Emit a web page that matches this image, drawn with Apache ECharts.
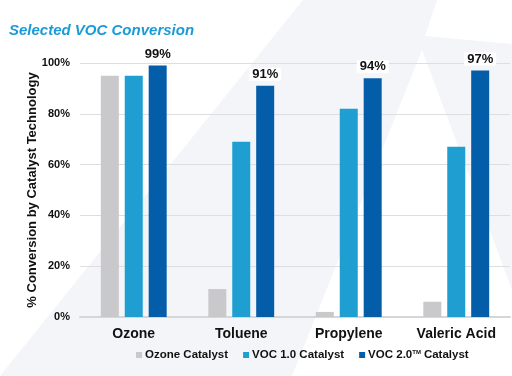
<!DOCTYPE html>
<html>
<head>
<meta charset="utf-8">
<script src="https://cdn.jsdelivr.net/npm/echarts@6/dist/echarts.min.js"></script>
<style>
    html, body { margin: 0; padding: 0; background: #fff; }
    #chart { width: 512px; height: 376px; }
</style>
</head>
<body>
<div id="chart"></div>
<script>
let categories = ['Ozone', 'Toluene', 'Propylene', 'Valeric Acid'];
let seriesNames = ['Ozone Catalyst', 'VOC 1.0 Catalyst', 'VOC 2.0 Catalyst'];
let ozoneCatalyst = [95, 11, 2, 6];
let voc10Catalyst = [95, 69, 82, 67];
let voc20Catalyst = [99, 91, 94, 97];
let yTicks = [0, 20, 40, 60, 80, 100];

let colors = ['#c9c9cb', '#1f9ed2', '#045da8'];
let fontFamily = '"Liberation Sans", Arial, sans-serif';

let myChart = echarts.init(document.getElementById('chart'));

let barSeries = function(name, data, color, withLabel) {
    return {
        name: name,
        type: 'bar',
        data: data,
        barWidth: 18,
        barGap: '33%',
        itemStyle: { color: color },
        label: {
            show: withLabel,
            position: 'top',
            distance: 5,
            formatter: '{c}%',
            color: '#111',
            fontWeight: 'bold',
            fontSize: 13,
            fontFamily: fontFamily,
            backgroundColor: '#fff',
            padding: [0, 3]
        }
    };
};

let options = {
    backgroundColor: '#fff',
    animation: false,
    graphic: [
        {
            type: 'polygon',
            z: -10,
            shape: { points: [[303, 0], [437, 0], [425, 36], [512, 44], [512, 376], [0, 376]] },
            style: { fill: '#f4f5f9' }
        },
        {
            type: 'polygon',
            z: -9,
            shape: { points: [[422, 50], [512, 290], [512, 376], [292, 376]] },
            style: { fill: '#ffffff' }
        }
    ],
    title: {
        text: 'Selected VOC Conversion',
        left: 9,
        top: 23,
        padding: 0,
        textStyle: {
            color: '#1a9bd7',
            fontSize: 15,
            fontWeight: 'bold',
            fontStyle: 'italic',
            fontFamily: fontFamily
        }
    },
    legend: {
        bottom: 10,
        left: 131,
        itemWidth: 6,
        itemHeight: 6,
        itemGap: 15,
        icon: 'rect',
        data: seriesNames,
        formatter: function(name) {
            if (name === 'VOC 2.0 Catalyst') {
                return 'VOC 2.0{tm|TM}Catalyst';
            }
            return name;
        },
        textStyle: {
            color: '#111',
            fontWeight: 'bold',
            fontSize: 11.5,
            fontFamily: fontFamily,
            padding: [0, 0, 0, -2],
            rich: {
                tm: {
                    fontSize: 6,
                    fontWeight: 'bold',
                    verticalAlign: 'top',
                    padding: [0, 3, 6, 0],
                    color: '#111'
                }
            }
        }
    },
    grid: {
        left: 80,
        right: 2,
        top: 63,
        bottom: 59
    },
    xAxis: {
        type: 'category',
        data: categories,
        axisLine: { show: true, lineStyle: { color: '#d6d6d6', width: 2 } },
        axisTick: { show: false },
        axisLabel: {
            color: '#111',
            fontWeight: 'bold',
            fontSize: 14,
            fontFamily: fontFamily,
            margin: 10
        }
    },
    yAxis: {
        type: 'value',
        min: yTicks[0],
        max: yTicks[yTicks.length - 1],
        interval: 20,
        name: '% Conversion by Catalyst Technology',
        nameLocation: 'middle',
        nameGap: 41,
        nameMoveOverlap: false,
        nameTextStyle: {
            color: '#111',
            fontWeight: 'bold',
            fontSize: 13,
            fontFamily: fontFamily
        },
        axisLine: { show: false },
        axisTick: { show: false },
        axisLabel: {
            formatter: '{value}%',
            color: '#111',
            fontWeight: 'bold',
            fontSize: 11,
            fontFamily: fontFamily,
            margin: 10
        },
        splitLine: { lineStyle: { color: '#dedede', width: 1 } }
    },
    series: [
        barSeries(seriesNames[0], ozoneCatalyst, colors[0], false),
        barSeries(seriesNames[1], voc10Catalyst, colors[1], false),
        barSeries(seriesNames[2], voc20Catalyst, colors[2], true)
    ]
};

myChart.setOption(options);
</script>
</body>
</html>
